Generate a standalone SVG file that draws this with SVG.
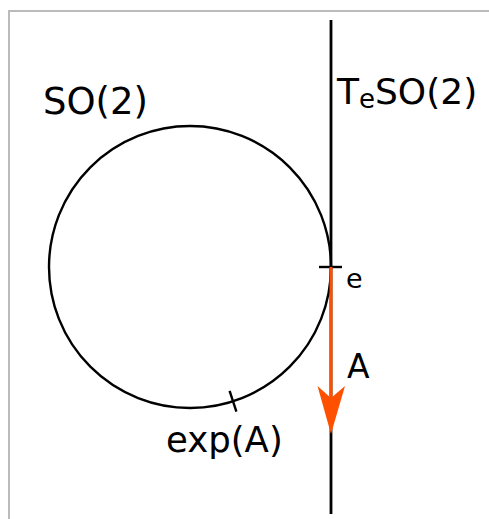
<svg xmlns="http://www.w3.org/2000/svg" width="489" height="519" viewBox="0 0 489 519">
<style>
.t{font-family:"DejaVu Sans",Verdana,sans-serif;fill:#000}
.k{fill:none;stroke:#000;stroke-width:2.4}
</style>
<rect width="489" height="519" fill="#fff"/>
<path d="M9,519 V11 H489" fill="none" stroke="#bbb" stroke-width="2"/>
<g id="tangent-line">
<line x1="331" y1="20" x2="331" y2="514" stroke="#000" stroke-width="2.8"/>
<text class="t" x="337" y="104" font-size="36">T<tspan font-size="26" dy="4">e</tspan><tspan dy="-4">SO(2)</tspan></text>
</g>
<g id="circle-so2">
<circle class="k" cx="190" cy="267" r="141"/>
<text class="t" x="43" y="114" font-size="37">SO(2)</text>
</g>
<g id="point-e">
<line class="k" x1="319" y1="267" x2="342" y2="267"/>
<text class="t" x="346" y="288" font-size="27">e</text>
</g>
<g id="point-expA">
<line class="k" x1="229.6" y1="390.8" x2="236.4" y2="411.7"/>
<text class="t" x="166" y="452" font-size="35.5">exp(A)</text>
</g>
<g id="connectors">
<line x1="331" y1="267" x2="331" y2="400" stroke="#ff5000" stroke-width="3"/>
<polygon points="331,434 317.5,386 331,398 345,386" fill="#ff5000"/>
<text class="t" x="347" y="378" font-size="33">A</text>
</g>
</svg>
